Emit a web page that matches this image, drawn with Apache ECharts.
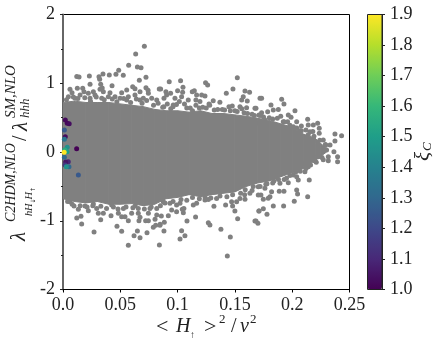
<!DOCTYPE html>
<html><head><meta charset="utf-8">
<style>html,body{margin:0;padding:0;background:#fff}#c{width:441px;height:348px}</style>
<script src="https://cdn.jsdelivr.net/npm/echarts@6/dist/echarts.min.js"></script>
</head><body><div id="c"></div>
<script>
const xTickLabels = ['0.0','0.05','0.1','0.15','0.2','0.25'];
const yTickLabels = {'2':'2','1':'1','0':'0','-1':'-1','-2':'-2'};
const viridis = ['#440154','#482878','#3e4989','#31688e','#26828e','#1f9e89','#35b779','#6ece58','#b5de2b','#fde725'];

// dense core of the cloud: [x, upper y, lower y]
const coreEnvelope = [
[0,.72,-.68],[.01,.74,-.72],[.02,.72,-.74],[.03,.72,-.72],[.04,.72,-.76],[.05,.70,-.76],[.06,.68,-.75],
[.07,.66,-.78],[.08,.62,-.76],[.09,.60,-.68],[.10,.60,-.66],[.11,.58,-.62],[.12,.60,-.65],[.13,.56,-.62],
[.14,.56,-.60],[.15,.54,-.58],[.16,.52,-.50],[.17,.49,-.45],[.18,.46,-.42],[.19,.41,-.36],[.20,.36,-.30],
[.21,.26,-.24],[.22,.20,-.12],[.225,.12,-.06],[.23,.06,0]];

const upperEdgePoints = [
[.003,.76],[.009,.80],[.013,.78],[.019,.79],[.024,.74],[.029,.80],[.036,.76],[.043,.77],[.047,.73],[.053,.78],[.059,.72],[.064,.77],
[.069,.71],[.073,.75],[.079,.68],[.083,.71],[.087,.65],[.091,.70],[.096,.66],[.099,.69],[.106,.70],[.111,.64],[.116,.68],[.119,.64],
[.125,.64],[.128,.68],[.135,.62],[.141,.61],[.146,.60],[.152,.59],[.156,.63],[.161,.56],[.167,.53],[.171,.54],[.175,.51],[.183,.48],
[.187,.49],[.193,.44],[.198,.39],[.204,.35],[.208,.31],[.214,.25],[.219,.23],[.224,.17],[.229,.11]];

const lowerEdgePoints = [
[.004,-.72],[.008,-.76],[.015,-.78],[.021,-.80],[.026,-.78],[.033,-.79],[.038,-.82],[.044,-.80],[.048,-.83],[.055,-.80],[.061,-.81],
[.063,-.78],[.071,-.83],[.077,-.80],[.085,-.78],[.089,-.74],[.096,-.72],[.103,-.69],[.108,-.70],[.113,-.66],[.119,-.68],[.124,-.66],
[.129,-.67],[.137,-.64],[.143,-.65],[.148,-.62],[.155,-.60],[.159,-.55],[.166,-.50],[.172,-.50],[.178,-.46],[.184,-.42],[.188,-.40],
[.193,-.40],[.198,-.34],[.203,-.29],[.207,-.28],[.212,-.24],[.216,-.19],[.221,-.15],[.226,-.08]];

const upperLeftPoints = [
[.0710,1.537],[.0634,1.425],[.0573,1.261],[.0649,1.236],[.0681,1.226],[.0486,1.188],[.0462,1.13],[.0404,1.12],
[.0349,1.135],[.0314,1.095],[.032,1.057],[.0526,1.116],[.023,1.105],[.012,1.10],[.014,1.09],[.0724,1.086],
[.0666,1.043],[.0236,.985],[.0329,.985],[.0342,.93],[.0428,.965],[.0608,.95],[.0628,.92],[.0724,.935],[.0742,.90],[.084,.916],
[.0061,.912],[.0079,.862],[.0047,.805],[.0125,.926],[.0172,.926],[.0183,.877],[.0149,.829],[.0221,.853],[.0265,.877],
[.0279,.829],[.0323,.912],[.0352,.877],[.041,.862],[.0396,.805],[.0454,.805],[.0512,.862],[.0498,.781],[.0556,.902],
[.057,.805],[.0628,.829],[.0672,.877],[.0701,.781],[.0745,.853],[.0774,.781],[.0818,.756],[.0105,.781],[.0236,.781],
[.0338,.781],[.0672,.756],[.0556,.756]];

const upperMidPoints = [
[.0927,1.023],[.1026,1.037],[.1047,.941],[.1244,1.008],[.1262,.975],[.1521,1.081],[.1483,.917],[.1425,.853],[.1588,.887],
[.1628,.869],[.0852,.916],[.0898,.877],[.1,.892],[.1044,.869],[.1146,.892],[.1128,.877],[.0939,.853],[.0881,.781],[.0977,.781],
[.1035,.805],[.1015,.733],[.1093,.756],[.0962,.684],[.0904,.829],[.1166,.829],[.121,.829],[.1239,.814],[.116,.756],[.1195,.733],
[.1274,.698],[.1311,.747],[.1369,.723],[.1559,.756],[.1573,.805],[.1608,.742],[.1448,.659],[.1477,.669],[.1544,.659],[.1602,.644],
[.1675,.635],[.1719,.781],[.088,.66],[.094,.63],[.108,.64],[.113,.60],[.122,.65],[.132,.61],[.139,.62],[.15,.60],[.158,.57],[.165,.55]];

const upperRightPoints = [
[.1733,.781],[.1908,.766],[.1928,.698],[.1815,.684],[.2024,.601],[.1684,.635],[.1733,.572],[.1786,.587],[.1835,.611],[.1879,.62],
[.1966,.538],[.199,.505],[.2039,.441],[.2135,.476],[.214,.393],[.2184,.393],[.2222,.417],[.2236,.345],[.201,.368],[.2068,.31],
[.212,.32],[.2155,.295],[.2236,.272],[.2373,.262],[.2431,.237],[.2373,.16],[.233,.102],[.2364,.004],[.2396,-.068],[.2396,-.141],
[.2315,-.068],[.2271,.175],[.2292,.102],[.23,.029],[.217,-.044],[.2228,-.068],[.2193,-.126],[.2271,-.112],[.2315,-.126],[.2053,-.14],
[.1922,.441],[.185,.393],[.1762,.466],[.1704,.417],[.196,.44],[.18,.50],[.19,.52],[.172,.53],[.208,.38],[.218,.30]];

const lowerLeftPoints = [
[.057,-1.358],[.0841,-1.353],[.0271,-1.164],[.012,-.96],[.0157,-.935],[.0163,-1.047],[.0329,-.984],[.0471,-1.081],[.0512,-1.154],
[.0649,-1.149],[.062,-1.217],[.0672,-1.246],[.0733,-1.173],[.0788,-1.096],[.0809,-1.067],[.0847,-1.052],[.057,-.999],[.0541,-.941],
[.0663,-1.0],[.0721,-.999],[.0745,-.999],[.0803,-.979],[.0419,-.926],[.0308,-.892],[.0352,-.892],[.0221,-.853],[.0134,-.834],
[.0096,-.786],[.0061,-.722],[.0192,-.786],[.0294,-.82],[.0483,-.892],[.0512,-.941],[.0599,-.892],[.0657,-.82],[.0657,-.892],
[.0672,-.95],[.0745,-.892],[.0818,-.916],[.0759,-.82],[.0818,-.82],[.0425,-.771],[.0527,-.82],[.0265,-.756]];

const lowerMidPoints = [
[.1434,-1.513],[.1460,-1.236],[.1378,-1.125],[.1268,-1.028],[.1282,-1.062],[.1157,-.945],[.1082,-1.004],[.1035,-1.144],[.1064,-1.217],
[.1021,-1.265],[.0881,-1.149],[.0884,-1.023],[.0846,-1.067],[.0919,-.926],[.0858,-.931],[.0991,-.868],[.105,-.883],[.1041,-.834],
[.0948,-.844],[.1524,-.97],[.1500,-.858],[.1317,-.79],[.1419,-.771],[.1675,-1.004],[.1701,-1.038],[.171,-.858],[.1588,-.689],
[.148,-.785],[.1471,-.723],[.1137,-.771],[.1166,-.747],[.1021,-.747],[.1055,-.82],[.0933,-.747],[.0875,-.723],[.1239,-.699],
[.1268,-.69],[.134,-.675],[.1515,-.723],[.1544,-.675],[.1631,-.601],[.1704,-.625],[.0991,-.771]];

const lowerRightPoints = [
[.1684,-1.004],[.178,-.906],[.1748,-.825],[.1710,-.858],[.1835,-.785],[.1925,-.785],[.2018,-.717],[.2135,-.65],[.2039,-.553],
[.2047,-.611],[.1928,-.572],[.1887,-.572],[.2149,-.407],[.1806,-.65],[.1791,-.674],[.1748,-.689],[.1727,-.625],[.2053,-.407],
[.2039,-.359],[.1966,-.446],[.2009,-.335],[.1893,-.456],[.1864,-.359],[.1820,-.577],[.1762,-.529],[.1704,-.504],[.2111,-.286],
[.214,-.213],[.2082,-.165],[.2199,-.116],[.1585,-.62],[.165,-.56],[.177,-.47],[.183,-.45],[.195,-.38]];

// [x, y, xi_C]
const colouredPoints = [
[.0119,.048,1.0],[.002,.465,1.02],[.0037,.42,1.02],[.0054,.41,1.03],[.002,.223,1.03],[.0046,-.14,1.1],[.0023,-.145,1.05],
[.0018,-.19,1.15],[.0012,.32,1.25],[.0134,-.335,1.25],[.0012,-.077,1.3],[.0052,-.213,1.3],[.0012,.185,1.35],[.0037,.068,1.45],
[.0029,-.213,1.45],[.0035,.004,1.5],[.0015,.03,1.55],[.001,-.005,1.9]];

const greyPoints = [].concat(upperEdgePoints, lowerEdgePoints, upperLeftPoints, upperMidPoints, upperRightPoints, lowerLeftPoints, lowerMidPoints, lowerRightPoints);
const grey = '#808080', ink = '#222';
const serif = '"Liberation Serif", serif';
const arrowFont = '"DejaVu Sans", sans-serif';

const chart = echarts.init(document.getElementById('c'), null, {renderer:'canvas'});

function vtext(x, y, text, size, italic){
  return {type:'text', x, y, rotation:Math.PI/2, silent:true,
    style:{text, x:0, y:0, fill:ink, font:(italic===false?'':'italic ')+size+'px '+serif, align:'left', verticalAlign:'middle'}};
}
function varrow(x, y, text, size){
  return {type:'text', x, y, rotation:Math.PI/2, silent:true,
    style:{text, x:0, y:0, fill:ink, font:size+'px '+arrowFont, align:'left', verticalAlign:'middle'}};
}
function htext(x, y, text, size, italic){
  return {type:'text', x, y, silent:true,
    style:{text, x:0, y:0, fill:ink, font:(italic?'italic ':'')+size+'px '+serif, align:'left', verticalAlign:'middle'}};
}

chart.setOption({
  animation:false,
  backgroundColor:'#fff',
  grid:[
    {left:63, top:14.5, width:286.5, height:275, show:true, borderColor:'#000', borderWidth:1, backgroundColor:'transparent'},
    {left:367.5, top:14.5, width:14.5, height:275, show:false}
  ],
  xAxis:[
    {gridIndex:0, type:'value', min:0, max:.25, interval:.05, splitLine:{show:false},
     axisLine:{onZero:false, lineStyle:{color:'#000', width:1}},
     axisTick:{length:3, lineStyle:{color:'#000'}},
     axisLabel:{margin:7, fontFamily:serif, fontSize:18, color:ink, hideOverlap:false, showMinLabel:true, showMaxLabel:true,
       formatter:(v)=>xTickLabels[Math.round(v/.05)]}},
    {gridIndex:1, type:'value', show:false, min:0, max:1}
  ],
  yAxis:[
    {gridIndex:0, type:'value', min:-2, max:2, interval:1, splitLine:{show:false},
     axisLine:{onZero:false, lineStyle:{color:'#666', width:2}},
     axisTick:{length:3, lineStyle:{color:'#222'}},
     minorTick:{show:true, splitNumber:2, length:2, lineStyle:{color:'#222'}},
     axisLabel:{margin:8, fontFamily:serif, fontSize:18, color:ink, showMinLabel:true, showMaxLabel:true,
       formatter:(v)=>yTickLabels[String(v)]}},
    {gridIndex:1, type:'value', position:'right', min:1, max:1.9, interval:.1, splitLine:{show:false},
     axisLine:{show:true, onZero:false, lineStyle:{color:'#222', width:1}},
     axisTick:{length:3, lineStyle:{color:'#222'}},
     axisLabel:{margin:8, fontFamily:serif, fontSize:18, color:ink, showMinLabel:true, showMaxLabel:true,
       formatter:(v)=>v.toFixed(1)}}
  ],
  visualMap:{type:'continuous', min:1, max:1.9, dimension:2, seriesIndex:2, inRange:{color:viridis},
    left:367.5, top:14.5, itemWidth:14.5, itemHeight:275, padding:0, calculable:false, show:true, text:null, showLabel:false,
    textStyle:{fontSize:0}, hoverLink:false, realtime:false},
  series:[
    {type:'custom', xAxisIndex:0, yAxisIndex:0, data:coreEnvelope, silent:true, clip:true, z:2,
     encode:{x:0, y:[1,2]},
     renderItem:(p, api)=>{
       const i = p.dataIndex, n = coreEnvelope[i+1];
       if(!n) return null;
       const a = api.coord([api.value(0), api.value(1)]), b = api.coord([api.value(0), api.value(2)]);
       const c = api.coord([n[0], n[2]]), d = api.coord([n[0], n[1]]);
       return {type:'polygon', shape:{points:[a,b,c,d]}, style:{fill:grey, stroke:grey, lineWidth:1}};
     }},
    {type:'scatter', xAxisIndex:0, yAxisIndex:0, data:greyPoints, symbolSize:5, silent:true, z:3,
     itemStyle:{color:grey, opacity:1}},
    {type:'scatter', xAxisIndex:0, yAxisIndex:0, data:colouredPoints, symbolSize:5, silent:true, z:4, itemStyle:{opacity:1}}
  ],
  graphic:[
    {type:'rect', z:100, silent:true, shape:{x:367.5, y:14.5, width:14.5, height:275}, style:{fill:'none', stroke:'#222', lineWidth:1}},
    // y axis title
    vtext(19,241,'\u03bb',21),
    vtext(11,222,'C2HDM,NLO',14),
    vtext(29,216,'h',10.5),
    vtext(29,211,'H',10.5),
    varrow(33,203.5,'\u2193',6),
    vtext(29,199.5,'H',10.5),
    varrow(33,192,'\u2191',6),
    vtext(21,141,'/',20,false),
    vtext(21,131,'\u03bb',21),
    vtext(11,118,'SM,NLO',15),
    vtext(26,118,'hhh',13),
    // x axis title
    htext(156,327,'<',22,false),
    htext(176,327,'H',20,true),
    htext(190,335,'\u2191',10,false),
    htext(204,327,'>',22,false),
    htext(219,320,'2',13,false),
    htext(231,327,'/',20,false),
    htext(240,327,'v',20,true),
    htext(250,320,'2',13,false),
    // colour bar title
    vtext(423,161,'\u03be',21),
    vtext(428,151,'C',13)
  ]
});
</script></body></html>
